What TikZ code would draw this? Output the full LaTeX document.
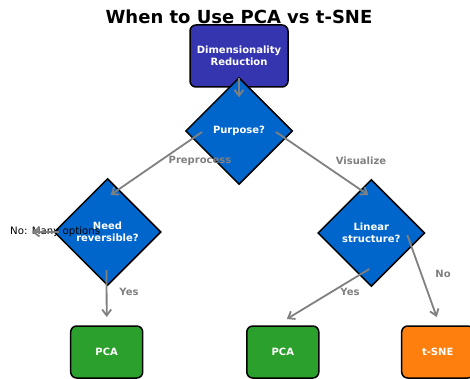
\documentclass[tikz,border=0pt]{standalone}
\usepackage{fontspec}
\setmainfont{DejaVu Sans}
\usepackage{tikz}
\usetikzlibrary{positioning}
\usetikzlibrary{shapes.geometric}
\usetikzlibrary{arrows.meta}
\usetikzlibrary{calc}

\definecolor{rootblue}{HTML}{3535B0}
\definecolor{askblue}{HTML}{0066CC}
\definecolor{pcagreen}{HTML}{2CA02C}
\definecolor{snorange}{HTML}{FF7F0E}
\definecolor{flowgray}{HTML}{808080}

\tikzset{
    box/.style = {draw = black, line width = 1.5pt, rounded corners = 6pt, text = white, align = center,
        inner sep = 0, minimum width = 72pt, minimum height = 52pt, font = \fontsize{10}{11.6}\selectfont\bfseries},
    ask/.style = {diamond, draw = black, line width = 1.5pt, fill = askblue, text = white, align = center,
        inner sep = 0, minimum size = 107pt, font = \fontsize{10}{11.6}\selectfont\bfseries},
    flow/.style = {-{Straight Barb[length = 6pt, width = 9pt]}, draw = flowgray, line width = 1.8pt},
    tag/.style = {text = flowgray, font = \fontsize{10}{12}\selectfont\bfseries}
}

\begin{document}
\begin{tikzpicture}[x = 1pt, y = -1pt]
    \useasboundingbox (0,0) rectangle (470,379);
    % nodes %
    \node[font = \fontsize{18}{20}\selectfont\bfseries] (title) at (239,17) {When to Use PCA vs t-SNE};
    \node[box, fill = rootblue, minimum width = 98pt, minimum height = 62pt] (root) at (239,56) {Dimensionality\\Reduction};
    \node[ask] (purpose) at (239,131) {Purpose?};
    \node[ask] (need) at (107.5,232) {Need\\reversible?};
    \node[ask] (linear) at (371.3,233) {Linear\\structure?};
    \node[box, fill = pcagreen] (pcaA) at (106.7,352) {PCA};
    \node[box, fill = pcagreen] (pcaB) at (282.8,352) {PCA};
    \node[box, fill = snorange] (tsne) at (437.7,352) {t-SNE};
    \node[anchor = west, inner sep = 0, font = \fontsize{10.2}{12}\selectfont] (manyopt) at (10,232) {No: Many options};
    % edges %
    \draw[flow] ($(root)!0.3!(purpose)$) -- ($(root)!0.55!(purpose)$);
    \draw[flow] ($(purpose)+(-37,1)$) -- ($(need)+(3,-37)$);
    \draw[flow] ($(purpose)+(37,1)$) -- ($(linear)+(-3,-38)$);
    \draw[flow] ($(need)+(-1,38)$) -- ($(pcaA)+(0,-35)$);
    \draw[flow] ($(need)+(-49,0)$) -- ($(manyopt.west)+(22,0)$);
    \draw[flow] ($(linear)+(-2,36)$) -- ($(pcaB)+(4,-33)$);
    \draw[flow] ($(linear)+(36,2)$) -- ($(tsne)+(-1,-35)$);
    % labels %
    \node[tag] at (200,161) {Preprocess};
    \node[tag] at (361,161) {Visualize};
    \node[tag] at (129,292) {Yes};
    \node[tag] at (350,292) {Yes};
    \node[tag] at (443,274) {No};
\end{tikzpicture}
\end{document}
